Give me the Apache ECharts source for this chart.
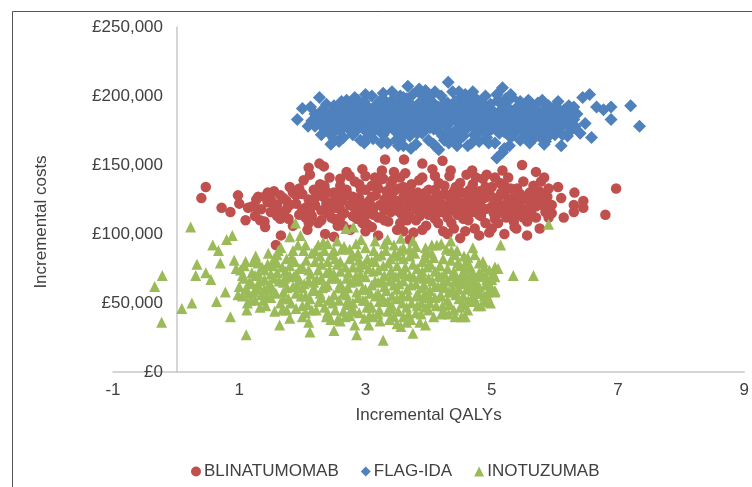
<!DOCTYPE html>
<html><head><meta charset="utf-8">
<script src="https://cdn.jsdelivr.net/npm/echarts@6/dist/echarts.min.js"></script>
<style>html,body{margin:0;padding:0;background:#fff;overflow:hidden}#c{width:752px;height:487px}</style>
</head><body><div id="c"></div>
<script>
// Series names
const seriesNames = ['BLINATUMOMAB', 'FLAG-IDA', 'INOTUZUMAB'];
// Axis titles
const xTitle = 'Incremental QALYs';
const yTitle = 'Incremental costs';
// Points: [incremental QALYs, incremental cost in £ thousands]
const blinatumomab = [
[0.47,134],[0.4,126],[0.98,128],[0.72,119],[0.86,116],[1.14,119],[1.27,125],[1.45,130],[1.33,110],[1.41,105],[1.66,99],[1.58,92],
[2.27,151],[2.34,149],[3.31,154],[3.61,154],[4.22,153],[5.48,150],[5.83,141],[5.78,138],[6.31,130],[6.97,133],[6.8,114],[6.3,121],
[6.3,116],[6.1,126],[6.14,112],[5.95,115],[5.56,99],[5.39,104],[5.17,146],[4.92,143],[4.69,146],
[1.2,120],[1.25,113],[1.3,127],[1.35,118],[1.4,109],[1.45,123],[1.5,116],[1.55,131],[1.6,121],[1.65,111],[1.7,126],[1.75,118],[1.8,134],[1.85,106],[1.9,122],[1.95,114],
[2.0,129],[2.02,139],[2.05,119],[2.08,103],[2.1,125],[2.12,143],[2.15,113],[2.18,132],[2.2,121],[2.25,108],[2.28,136],[2.3,117],[2.33,127],[2.36,100],[2.4,123],[2.43,141],
[2.46,112],[2.5,130],[2.53,119],[2.56,106],[2.6,135],[2.63,124],[2.66,115],[2.7,145],[2.73,128],[2.76,103],[2.8,120],[2.83,138],[2.86,111],[2.9,126],[2.93,132],[2.96,117],
[3.0,142],[3.03,107],[3.06,124],[3.1,135],[3.13,114],[3.16,128],[3.2,99],[3.23,121],[3.26,146],[3.3,117],[3.33,131],[3.36,109],[3.4,126],[3.43,139],[3.46,120],[3.5,103],
[3.53,133],[3.56,115],[3.6,127],[3.63,144],[3.66,110],[3.7,122],[3.73,136],[3.76,101],[3.8,118],[3.83,130],[3.86,113],[3.9,141],[3.93,124],[3.96,106],[4.0,132],[4.03,119],
[4.06,147],[4.1,111],[4.13,127],[4.16,137],[4.2,116],[4.23,102],[4.26,129],[4.3,121],[4.33,142],[4.36,108],[4.4,125],[4.43,134],[4.46,114],[4.5,97],[4.53,130],[4.56,119],
[4.6,143],[4.63,110],[4.66,126],[4.7,136],[4.73,104],[4.76,121],[4.8,131],[4.83,113],[4.86,140],[4.9,118],[4.93,127],[4.96,101],[5.0,134],[5.03,115],[5.06,124],[5.1,108],
[5.13,137],[5.16,120],[5.2,129],[5.23,112],[5.26,141],[5.3,117],[5.33,126],[5.36,105],[5.4,133],[5.43,121],[5.46,114],[5.5,138],[5.53,125],[5.56,109],[5.6,130],[5.63,118],
[5.66,135],[5.7,112],[5.73,123],[5.76,104],[5.8,128],[5.85,116],[5.9,133],[5.95,121],
[2.2,126],[2.6,118],[3.0,122],[3.4,116],[3.8,125],[4.2,122],[4.6,124],[5.0,120],[5.4,126],[2.4,130],[2.8,113],[3.2,133],[3.6,120],[4.0,114],[4.4,118],[4.8,123],
[5.2,118],[3.1,127],[3.5,124],[3.9,119],[4.3,128],[4.7,116],[5.1,126],[2.5,111],[3.3,110],[4.1,120],[4.9,108],[2.9,136],[3.7,132],[4.5,137],[5.3,133],[1.6,117],[1.9,128],[5.7,120],
[1.3,118],[1.5,125],[1.7,114],[1.85,130],[2.05,112],[2.15,121],[2.35,135],[2.45,118],[2.55,127],[2.65,106],[2.75,121],[2.85,125],[2.95,108],[3.05,115],[3.15,141],[3.25,112],
[3.35,124],[3.45,131],[3.55,108],[3.65,118],[3.75,127],[3.85,139],[3.95,130],[4.05,125],[4.15,108],[4.25,135],[4.35,117],[4.45,127],[4.55,111],[4.65,132],[4.75,127],[4.85,119],
[4.95,131],[5.05,111],[5.15,130],[5.25,123],[5.35,114],[5.45,129],[5.55,118],[5.65,125],[5.75,131],[5.85,124],[3.0,102],[3.9,103],[4.4,104],[2.6,140],[3.45,145],[4.1,142],
[5.0,104],[2.0,118],[1.75,124],[4.75,141],[3.2,138],[5.35,109],
[1.4,127],[1.6,113],[1.8,121],[1.95,133],[2.1,108],[2.25,130],[2.4,115],[2.5,124],[2.6,112],[2.7,132],[2.8,127],[2.9,117],[3.0,132],[3.1,120],[3.2,112],[3.3,125],
[3.4,135],[3.5,117],[3.6,134],[3.7,113],[3.8,110],[3.9,126],[4.0,122],[4.1,132],[4.2,128],[4.3,112],[4.4,131],[4.5,122],[4.6,116],[4.7,121],[4.8,114],[4.9,134],
[5.0,127],[5.1,115],[5.2,135],[5.3,122],[5.4,117],[5.5,112],[5.6,124],[5.7,127],[5.8,121],[2.3,110],[3.1,105],[3.6,102],[4.3,100],[2.75,142],[3.55,141],[4.35,146],
[5.05,141],[5.9,112],
[2.1,148],[2.95,147],[3.9,151],[5.7,145],[6.05,134],[1.0,122],[1.1,110],[2.5,98],[3.7,96],[4.8,99],[5.2,100],[6.45,124],[6.45,119],
[1.55,122],[1.65,128],[1.78,111],[2.12,117],[2.38,122],[2.62,129],[2.88,121],[3.12,118],[3.38,121],[3.62,113],[3.88,122],[4.12,116],[4.38,122],[4.62,129],[4.88,126],[5.12,121],
[5.38,120],[5.62,115],[5.88,127],[3.28,140],[4.58,102],[2.98,112]
];
const flagIda = [
[1.92,183],[2.0,191],[2.13,192],[2.27,199],[2.09,178],[2.2,178],[2.45,165],[2.58,167],[4.31,210],[3.67,207],[5.17,206],[5.08,155],
[7.2,193],[7.34,178],[6.89,192],[6.89,183],[6.55,201],[6.44,199],[6.58,170],[6.66,192],[6.77,190],[6.1,164],[5.83,165],[5.17,159],
[4.16,161],[3.72,162],[3.52,164],[2.98,166],[6.4,173],[6.48,180],
[2.25,186],[2.3,181],[2.35,176],[2.32,190],[2.4,184],[2.45,172],[2.5,193],[2.48,179],[2.55,187],[2.58,175],[2.6,183],[2.62,196],[2.65,170],
[2.7,188],[2.72,178],[2.75,194],[2.78,183],[2.8,172],[2.83,199],[2.85,186],[2.88,176],[2.9,191],[2.92,168],[2.95,181],[2.98,196],[3.0,186],[3.02,174],[3.05,190],[3.08,179],[3.1,200],[3.12,169],[3.15,185],[3.18,194],[3.2,176],
[3.22,188],[3.25,181],[3.28,172],[3.3,197],[3.33,184],[3.35,166],[3.38,191],[3.4,178],[3.42,203],[3.45,186],[3.48,174],[3.5,194],[3.52,181],[3.55,168],[3.58,189],[3.6,199],[3.62,176],[3.65,185],[3.68,192],[3.7,171],[3.72,182],[3.75,201],[3.78,188],[3.8,165],
[3.82,178],[3.85,195],[3.88,184],[3.9,173],[3.92,190],[3.95,204],[3.98,181],[4.0,168],[4.02,187],[4.05,196],[4.08,176],[4.1,185],[4.12,163],[4.15,192],[4.18,180],[4.2,200],[4.22,171],[4.25,188],[4.28,178],[4.3,195],[4.32,166],[4.35,183],[4.38,203],[4.4,174],
[4.42,190],[4.45,181],[4.48,197],[4.5,169],[4.52,186],[4.55,176],[4.58,201],[4.6,184],[4.62,164],[4.65,192],[4.68,179],[4.7,188],[4.72,172],[4.75,198],[4.78,182],[4.8,167],[4.82,191],[4.85,177],[4.88,186],[4.9,200],[4.92,170],[4.95,183],[4.98,194],[5.0,176],
[5.02,188],[5.05,166],[5.08,181],[5.1,197],[5.12,173],[5.15,190],[5.18,184],[5.2,162],[5.22,195],[5.25,177],[5.28,187],[5.3,170],[5.32,199],[5.35,182],[5.38,191],[5.4,175],[5.42,186],[5.45,168],[5.48,194],[5.5,180],[5.52,188],[5.55,173],[5.58,197],[5.6,183],
[5.62,178],[5.65,190],[5.68,170],[5.7,186],[5.73,195],[5.76,181],[5.8,175],[5.82,189],[5.85,167],[5.88,184],[5.9,193],[5.93,178],[5.96,187],[6.0,172],[6.02,182],[6.05,191],[6.08,177],[6.1,186],[6.15,180],[6.2,188],[6.25,175],[6.3,183],
[2.6,186],[2.9,182],[3.1,190],[3.3,180],[3.5,186],[3.7,178],[3.9,185],[4.1,179],[4.3,187],[4.5,182],[4.7,178],[4.9,185],[5.1,182],[5.3,187],[5.5,183],[5.7,180],[5.9,186],
[3.0,178],[3.4,193],[3.8,191],[4.2,181],[4.6,190],[5.0,190],[5.4,179],[2.8,192],[3.6,172],[4.4,170],[5.2,174],[6.0,178],[2.5,183],[3.2,184],[4.0,193],[4.8,174],[5.6,191],[6.2,180],
[2.4,178],[2.55,191],[2.7,182],[2.85,179],[2.95,188],[3.05,183],[3.15,177],[3.25,191],[3.35,187],[3.45,180],[3.55,195],[3.65,179],[3.75,186],[3.85,182],[3.95,176],[4.05,189],
[4.15,184],[4.25,195],[4.35,189],[4.45,175],[4.55,193],[4.65,185],[4.75,180],[4.85,195],[4.95,178],[5.05,185],[5.15,178],[5.25,192],[5.35,173],[5.45,187],[5.55,179],[5.65,184],
[5.75,177],[5.85,191],[5.95,181],[6.05,185],[6.15,190],[6.25,183],[2.75,187],[3.35,176],[3.95,198],[4.55,171],[5.15,194],[5.75,171],[3.65,198],[4.25,168],[4.85,189],[3.05,171],
[2.65,177],[6.35,187],[6.12,172],[3.55,200],[4.65,199],[5.45,196],
[2.45,188],[2.58,181],[2.68,192],[2.78,174],[2.92,185],[3.02,193],[3.12,181],[3.22,196],[3.32,175],[3.42,184],[3.52,190],[3.62,182],[3.72,194],[3.82,173],[3.92,180],[4.02,177],
[4.12,190],[4.22,186],[4.32,180],[4.42,196],[4.52,180],[4.62,177],[4.72,193],[4.82,184],[4.92,190],[5.02,181],[5.12,187],[5.22,180],[5.32,183],[5.42,192],[5.52,176],[5.62,195],
[5.72,189],[5.82,182],[5.92,174],[6.02,188],[6.12,179],[6.22,193],[3.28,202],[3.88,201],[4.48,203],[5.08,201],[2.88,197],[3.48,168],[4.08,165],[4.68,166],[5.28,164],[5.88,170],
[6.32,178],[2.38,194],
[2.35,185],[2.52,177],[2.62,189],[2.72,185],[2.82,180],[2.97,176],[3.07,187],[3.17,189],[3.27,184],[3.37,180],[3.47,189],[3.57,177],[3.67,190],[3.77,178],[3.87,188],[3.97,186],
[4.07,182],[4.17,174],[4.27,183],[4.37,193],[4.47,186],[4.57,188],[4.67,182],[4.77,188],[4.87,180],[4.97,187],[5.07,177],[5.17,190],[5.27,185],[5.37,177],[5.47,183],[5.57,186],
[5.67,176],[5.77,184],[5.87,178],[5.97,191],[6.07,181],[6.17,185],[6.27,188],[3.12,174],[3.72,175],[4.32,174],[4.92,173],[5.52,171],[3.42,197],[4.02,200],[4.62,196],[5.22,198],
[2.3,172],[2.5,169],[2.7,197],[3.0,201],[3.25,166],[3.6,164],[3.85,205],[4.1,203],[4.45,164],[4.7,203],[4.95,166],[5.3,201],[5.6,166],[5.8,197],[6.05,196],[6.3,192],
[6.2,171],[2.2,187],[2.15,182]
];
const inotuzumab = [
[0.23,105],[-0.22,70],[-0.34,62],[-0.23,36],[0.09,46],[0.25,50],[0.58,92],[0.67,88],[0.8,96],[0.89,99],[0.33,78],[0.31,70],[0.47,72],[0.55,67],[0.7,79],[0.64,51],
[0.78,58],[0.86,40],[0.92,81],[1.11,27],[0.95,75],[0.98,56],[2.12,29],[2.5,30],[2.86,27],[3.28,23],[1.64,34],
[5.9,107],[5.14,92],[5.34,70],[5.66,70],[4.7,90],[5.05,76],[3.75,28],[3.56,33],[3.95,34],[4.58,40],[4.42,40],[4.89,51],[5.05,58],[4.94,58],[4.58,65],
[1.89,108],[1.97,99],[1.8,98],[2.69,104],[2.81,105],
[1.0,62],[1.02,74],[1.05,55],[1.08,68],[1.1,80],[1.13,50],[1.16,65],[1.2,72],[1.23,58],[1.26,84],[1.3,63],[1.33,47],[1.36,76],[1.4,67],[1.43,55],[1.46,86],
[1.5,71],[1.53,60],[1.56,44],[1.6,79],[1.63,66],[1.66,90],[1.7,53],[1.73,73],[1.76,61],[1.8,39],[1.83,83],[1.86,69],[1.9,57],[1.93,92],[1.96,75],[2.0,48],
[2.03,64],[2.06,81],[2.1,36],[2.13,71],[2.16,59],[2.2,88],[2.23,67],[2.26,51],[2.3,78],[2.33,94],[2.36,62],[2.4,43],[2.43,74],[2.46,85],[2.5,56],[2.53,68],
[2.56,38],[2.6,80],[2.63,61],[2.66,91],[2.7,49],[2.73,72],[2.76,65],[2.8,84],[2.83,34],[2.86,58],[2.9,76],[2.93,96],[2.96,52],[3.0,69],[3.03,82],[3.06,41],
[3.1,63],[3.13,88],[3.16,55],[3.2,74],[3.23,37],[3.26,67],[3.3,93],[3.33,59],[3.36,79],[3.4,46],[3.43,71],[3.46,86],[3.5,53],[3.53,64],[3.56,97],[3.6,40],
[3.63,76],[3.66,60],[3.7,84],[3.73,50],[3.76,69],[3.8,91],[3.83,57],[3.86,36],[3.9,73],[3.93,63],[3.96,87],[4.0,45],[4.03,78],[4.06,66],[4.1,54],[4.13,92],
[4.16,70],[4.2,42],[4.23,82],[4.26,61],[4.3,75],[4.33,49],[4.36,88],[4.4,65],[4.43,56],[4.46,79],[4.5,47],[4.53,71],[4.56,84],[4.6,60],[4.63,52],[4.66,76],
[4.7,67],[4.73,85],[4.76,57],[4.8,72],[4.83,48],[4.86,80],[4.9,63],[4.93,55],[4.96,74],[5.0,67],[5.05,59],[5.1,75],
[1.2,64],[1.5,62],[1.8,70],[2.1,66],[2.4,63],[2.7,68],[3.0,60],[3.3,70],[3.6,66],[3.9,61],[4.2,69],[4.5,64],[4.8,62],[1.4,74],[1.7,58],[2.0,76],
[2.3,54],[2.6,73],[2.9,66],[3.2,57],[3.5,77],[3.8,64],[4.1,73],[4.4,58],[4.7,72],[2.2,80],[2.8,50],[3.4,82],[4.0,56],[4.6,80],[1.9,46],[2.5,88],
[3.1,47],[3.7,89],[4.3,52],[2.65,44],[3.45,40],[3.95,83],
[1.1,60],[1.25,70],[1.35,56],[1.45,78],[1.55,68],[1.65,50],[1.75,82],[1.85,62],[1.95,67],[2.05,55],[2.15,86],[2.25,74],[2.35,47],[2.45,68],[2.55,78],[2.65,57],
[2.75,89],[2.85,70],[2.95,60],[3.05,75],[3.15,66],[3.25,85],[3.35,51],[3.45,63],[3.55,72],[3.65,47],[3.75,78],[3.85,69],[3.95,54],[4.05,86],[4.15,62],[4.25,71],
[4.35,81],[4.45,68],[4.55,55],[4.65,68],[4.75,64],[4.85,70],[4.95,65],[5.05,69],[2.4,93],[3.0,90],[3.6,90],[4.2,93],[2.0,40],[2.6,37],[3.2,42],[3.8,43],
[4.4,45],[1.6,85],[1.3,79],[2.9,43],[3.5,35],[4.7,51],
[1.05,70],[1.15,57],[1.3,71],[1.4,60],[1.5,54],[1.6,72],[1.7,65],[1.8,77],[1.9,71],[2.0,61],[2.1,74],[2.2,59],[2.3,68],[2.4,80],[2.5,71],[2.6,64],
[2.7,56],[2.8,76],[2.9,81],[3.0,52],[3.1,80],[3.2,65],[3.3,62],[3.4,73],[3.5,60],[3.6,82],[3.7,70],[3.8,55],[3.9,80],[4.0,68],[4.1,62],[4.2,55],
[4.3,66],[4.4,73],[4.5,77],[4.6,70],[4.7,59],[4.8,79],[4.9,70],[5.0,60],[2.15,45],[2.75,41],[3.35,44],[3.95,47],[4.55,49],[2.55,95],[3.15,95],[3.75,95],
[4.35,95],[1.75,45],
[1.08,77],[1.18,52],[1.22,80],[1.32,66],[1.38,52],[1.48,64],[1.58,57],[1.62,88],[1.68,76],[1.78,53],[1.88,80],[1.98,55],[2.02,88],[2.08,49],[2.18,65],[2.28,84],
[2.32,61],[2.38,72],[2.48,50],[2.52,82],[2.58,61],[2.62,89],[2.68,76],[2.72,61],[2.78,46],[2.82,66],[2.88,86],[2.92,71],[2.98,78],[3.02,47],[3.08,57],[3.12,73],
[3.18,84],[3.22,51],[3.28,77],[3.32,88],[3.38,66],[3.42,55],[3.48,69],[3.52,84],[3.58,56],[3.62,71],[3.68,42],[3.72,63],[3.78,86],[3.82,75],[3.88,50],[3.92,68],
[3.98,76],[4.02,59],[4.08,83],[4.12,48],[4.18,77],[4.22,64],[4.28,89],[4.32,58],[4.38,70],[4.42,85],[4.48,60],[4.52,66],[4.58,75],[4.62,83],[4.68,62],[4.72,54],
[4.78,69],[4.82,57],[4.88,76],[4.92,67],[4.98,61],[5.02,72],[2.45,38],[3.05,34],[3.65,36],[4.25,43],[2.25,92],[2.85,93],[3.45,92],[4.05,92],[1.55,82],[1.25,52],
[1.12,45],[1.28,60],[1.42,48],[1.52,77],[1.68,45],[1.72,68],[1.82,50],[1.92,63],[2.05,43],[2.12,53],[2.22,45],[2.28,57],[2.38,40],[2.42,52],[2.52,45],[2.58,52],
[2.68,40],[2.72,52],[2.82,44],[2.88,54],[2.98,39],[3.08,48],[3.12,40],[3.22,45],[3.28,53],[3.38,38],[3.42,48],[3.52,44],[3.58,50],[3.68,55],[3.72,38],[3.82,48],
[3.88,42],[3.92,55],[4.02,50],[4.08,40],[4.18,55],[4.22,48],[4.32,42],[4.38,60],[4.48,53],[4.52,40],[4.62,45],[4.68,53],[4.78,48],[4.88,55],[4.98,50],[2.35,88],
[2.75,82],[3.15,80],[3.55,88],[3.95,90],[4.45,88],[1.85,88],[2.05,92],[3.35,96]
];
// Axis ranges
const xMin = -1, xMax = 9, xStep = 2;
const yMin = 0, yMax = 250000, yStep = 50000;

const toPounds = arr => arr.map(p => [p[0], p[1] * 1000]);
const FONT = '"Liberation Sans", Arial, sans-serif';
const chart = echarts.init(document.getElementById('c'), null, {renderer: 'canvas', width: 752, height: 487});
chart.setOption({
  animation: false,
  backgroundColor: '#fff',
  grid: {left: 113, right: 0, top: 27, bottom: 115, containLabel: false},
  xAxis: {
    type: 'value', min: xMin, max: xMax, interval: xStep,
    splitLine: {show: false},
    axisTick: {show: false},
    axisLine: {show: true, onZero: true, lineStyle: {color: '#c8c8c8', width: 1.5}},
    axisLabel: {color: '#404040', fontFamily: FONT, fontSize: 17, margin: 10, showMaxLabel: true, showMinLabel: true},
    name: xTitle, nameLocation: 'middle', nameGap: 35,
    nameTextStyle: {color: '#404040', fontFamily: FONT, fontSize: 17}
  },
  yAxis: {
    type: 'value', min: yMin, max: yMax, interval: yStep,
    offset: -64,
    splitLine: {show: false},
    axisTick: {show: false},
    axisLine: {show: true, onZero: false, lineStyle: {color: '#c8c8c8', width: 1.5}},
    axisLabel: {color: '#404040', fontFamily: FONT, fontSize: 17, margin: 14,
      formatter: v => '£' + v.toLocaleString('en-GB')}
  },
  legend: {
    left: 186, top: 458, itemGap: 22, itemWidth: 10, itemHeight: 10,
    textStyle: {color: '#404040', fontFamily: FONT, fontSize: 17, padding: [0, 0, 0, -2]},
    data: seriesNames
  },
  graphic: [
    {type: 'rect', shape: {x: 12.5, y: 11.5, width: 800, height: 600}, style: {fill: 'none', stroke: '#555', lineWidth: 1}, silent: true, z: -1},
    {type: 'text', x: 41, y: 222, rotation: Math.PI / 2,
     style: {text: yTitle, fill: '#404040', font: '17px ' + FONT, textAlign: 'center', textVerticalAlign: 'middle'}}
  ],
  series: [
    {name: seriesNames[0], type: 'scatter', symbol: 'circle', symbolSize: 10.5,
     itemStyle: {color: '#C0504D', opacity: 1}, data: toPounds(blinatumomab)},
    {name: seriesNames[1], type: 'scatter', symbol: 'diamond', symbolSize: 13,
     itemStyle: {color: '#4F81BD', opacity: 1}, data: toPounds(flagIda)},
    {name: seriesNames[2], type: 'scatter', symbol: 'triangle', symbolSize: 11,
     itemStyle: {color: '#9BBB59', opacity: 1}, data: toPounds(inotuzumab)}
  ]
});
</script>
</body></html>
